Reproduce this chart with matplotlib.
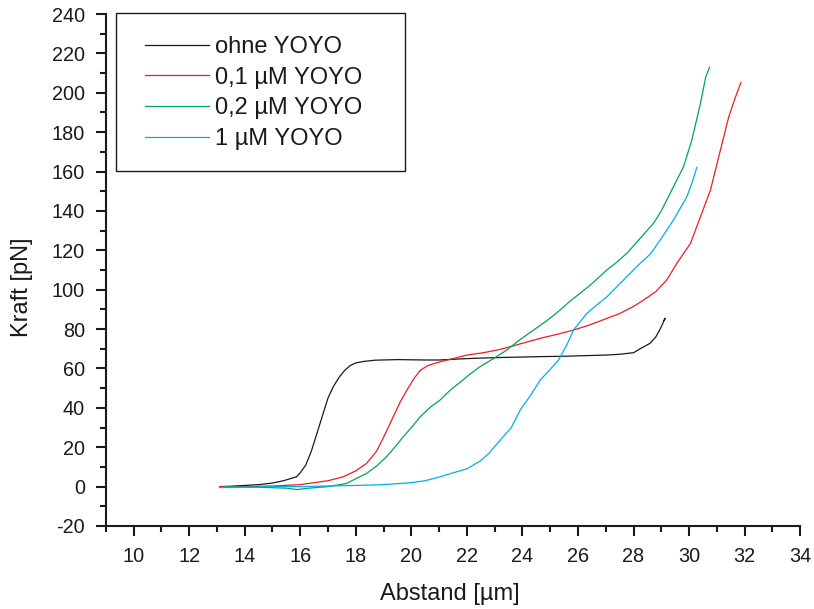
import matplotlib
matplotlib.use("Agg")
import matplotlib.pyplot as plt
from matplotlib.ticker import MultipleLocator
from matplotlib.patches import Rectangle

plt.rcParams['font.family'] = ['Liberation Sans', 'DejaVu Sans']
plt.rcParams['axes.unicode_minus'] = False

# ohne YOYO
x_ohne = [13.1, 13.5, 14.0, 14.5, 15.0, 15.4, 15.87, 16.0, 16.2, 16.4, 16.6, 16.8, 17.0, 17.2, 17.4,
          17.6, 17.8, 18.0, 18.3, 18.7, 19.5, 20.5, 21.0, 22.0, 23.0, 24.0, 24.6, 25.5, 26.5, 27.0,
          27.5, 28.0, 28.24, 28.6, 28.8, 28.96, 29.14, 29.1]
y_ohne = [0.0, 0.2, 0.6, 1.0, 1.8, 3.0, 5.0, 7.0, 11.0, 18.0, 27.0, 36.0, 45.0, 51.0, 55.5,
          59.0, 61.5, 62.8, 63.6, 64.2, 64.5, 64.3, 64.3, 65.0, 65.5, 65.8, 66.0, 66.2, 66.6, 66.8,
          67.2, 68.0, 70.0, 72.8, 76.0, 80.0, 85.5, 84.5]

# 0,1 µM YOYO
x_01 = [13.1, 14.0, 15.0, 16.0, 16.5, 17.0, 17.55, 18.0, 18.39, 18.75, 19.0, 19.35, 19.6, 19.84,
        20.1, 20.32, 20.6, 21.04, 21.5, 22.0, 22.6, 23.2, 23.8, 24.64, 25.3, 25.84, 26.4, 27.04,
        27.52, 28.0, 28.36, 28.8, 29.2, 29.56, 30.05, 30.41, 30.77, 31.13, 31.43, 31.65, 31.87]
y_01 = [0.0, 0.0, 0.3, 1.0, 2.0, 3.0, 5.0, 8.0, 11.8, 18.0, 25.0, 35.5, 43.0, 49.0,
        55.0, 59.0, 61.5, 63.4, 65.0, 66.8, 68.0, 69.7, 72.0, 75.3, 77.5, 79.5, 82.0, 85.4,
        88.0, 91.5, 94.7, 99.0, 105.0, 113.4, 123.5, 137.0, 150.6, 171.0, 187.8, 197.0, 205.3]

# 0,2 µM YOYO
x_02 = [13.3, 14.5, 15.5, 15.9, 16.3, 17.0, 17.67, 18.0, 18.39, 18.75, 19.11, 19.4, 19.71, 20.0,
        20.32, 20.7, 21.04, 21.4, 21.76, 22.1, 22.48, 22.96, 23.44, 23.9, 24.4, 24.9, 25.36, 25.7,
        26.08, 26.5, 27.04, 27.4, 27.76, 28.24, 28.72, 29.0, 29.32, 29.8, 30.1, 30.41, 30.6, 30.74]
y_02 = [0.0, -0.3, -0.8, -1.5, -0.8, 0.0, 1.6, 4.0, 6.7, 10.5, 15.2, 20.0, 25.3, 30.0,
        35.5, 40.5, 44.0, 49.0, 53.0, 57.0, 61.0, 65.0, 69.4, 74.5, 79.5, 84.5, 89.7, 94.0,
        98.2, 103.0, 110.0, 114.0, 118.5, 126.1, 133.7, 140.0, 149.0, 162.4, 176.0, 194.6, 208.0, 213.0]

# 1 µM YOYO
x_1 = [13.1, 14.0, 15.0, 16.0, 17.0, 18.0, 19.0, 20.0, 20.5, 21.04, 21.5, 22.0, 22.48, 22.8,
       23.2, 23.6, 23.92, 24.3, 24.64, 25.0, 25.3, 25.6, 25.84, 26.32, 26.7, 27.04, 27.4, 27.76,
       28.24, 28.6, 28.96, 29.44, 29.92, 30.1, 30.28]
y_1 = [-0.5, -0.3, 0.0, 0.0, 0.3, 0.6, 1.0, 2.0, 3.0, 5.0, 7.0, 9.0, 13.0, 17.0,
       23.6, 30.0, 38.9, 46.5, 54.1, 59.5, 64.3, 72.0, 79.5, 88.0, 92.5, 96.4, 101.5, 106.6,
       113.4, 118.0, 125.2, 135.4, 147.2, 154.0, 162.1]

labels = ["ohne YOYO", "0,1 µM YOYO", "0,2 µM YOYO", "1 µM YOYO"]
colors = ["#1a1a1a", "#ee1c24", "#00a651", "#00aeef"]

fig = plt.figure(figsize=(8.14, 6.09), dpi=100)
ax = fig.add_axes([0.130, 0.1363, 0.853, 0.8407])

for xs, ys, lab, c in zip([x_ohne, x_01, x_02, x_1], [y_ohne, y_01, y_02, y_1], labels, colors):
    ax.plot(xs, ys, color=c, lw=0.9, label=lab)

ax.set_xlim(9, 34)
ax.set_ylim(-20, 240)
ax.xaxis.set_major_locator(MultipleLocator(2))
ax.xaxis.set_minor_locator(MultipleLocator(1))
ax.yaxis.set_major_locator(MultipleLocator(20))
ax.yaxis.set_minor_locator(MultipleLocator(10))
ax.set_xticks([10, 12, 14, 16, 18, 20, 22, 24, 26, 28, 30, 32, 34])

for s in ["top", "right"]:
    ax.spines[s].set_visible(False)
for s in ["left", "bottom"]:
    ax.spines[s].set_linewidth(1.5)
    ax.spines[s].set_color("#1a1a1a")

ax.tick_params(which="major", direction="out", length=7, width=1.5, labelsize=14.3,
               colors="#1a1a1a", pad=8)
ax.tick_params(which="minor", direction="out", length=4, width=1.5, colors="#1a1a1a")

ax.set_xlabel("Abstand [µm]", fontsize=17, color="#1a1a1a")
ax.set_ylabel("Kraft [pN]", fontsize=17, color="#1a1a1a")
ax.xaxis.set_label_coords(0.495, -0.111)
ax.yaxis.set_label_coords(-0.105, 0.466)

# legend frame
ax.add_patch(Rectangle((0.0144, 0.693), 0.4164, 0.3086, transform=ax.transAxes,
                       fill=False, edgecolor="#1a1a1a", lw=1.0, clip_on=False, zorder=5))

leg = ax.legend(loc="upper left", bbox_to_anchor=(0.0562, 0.957), fontsize=17,
                frameon=False, handlelength=2.72, handletextpad=0.25, labelspacing=0.37,
                borderpad=0.0, borderaxespad=0.0)
for t in leg.get_texts():
    t.set_color("#1a1a1a")

fig.savefig("out.png", dpi=100)
